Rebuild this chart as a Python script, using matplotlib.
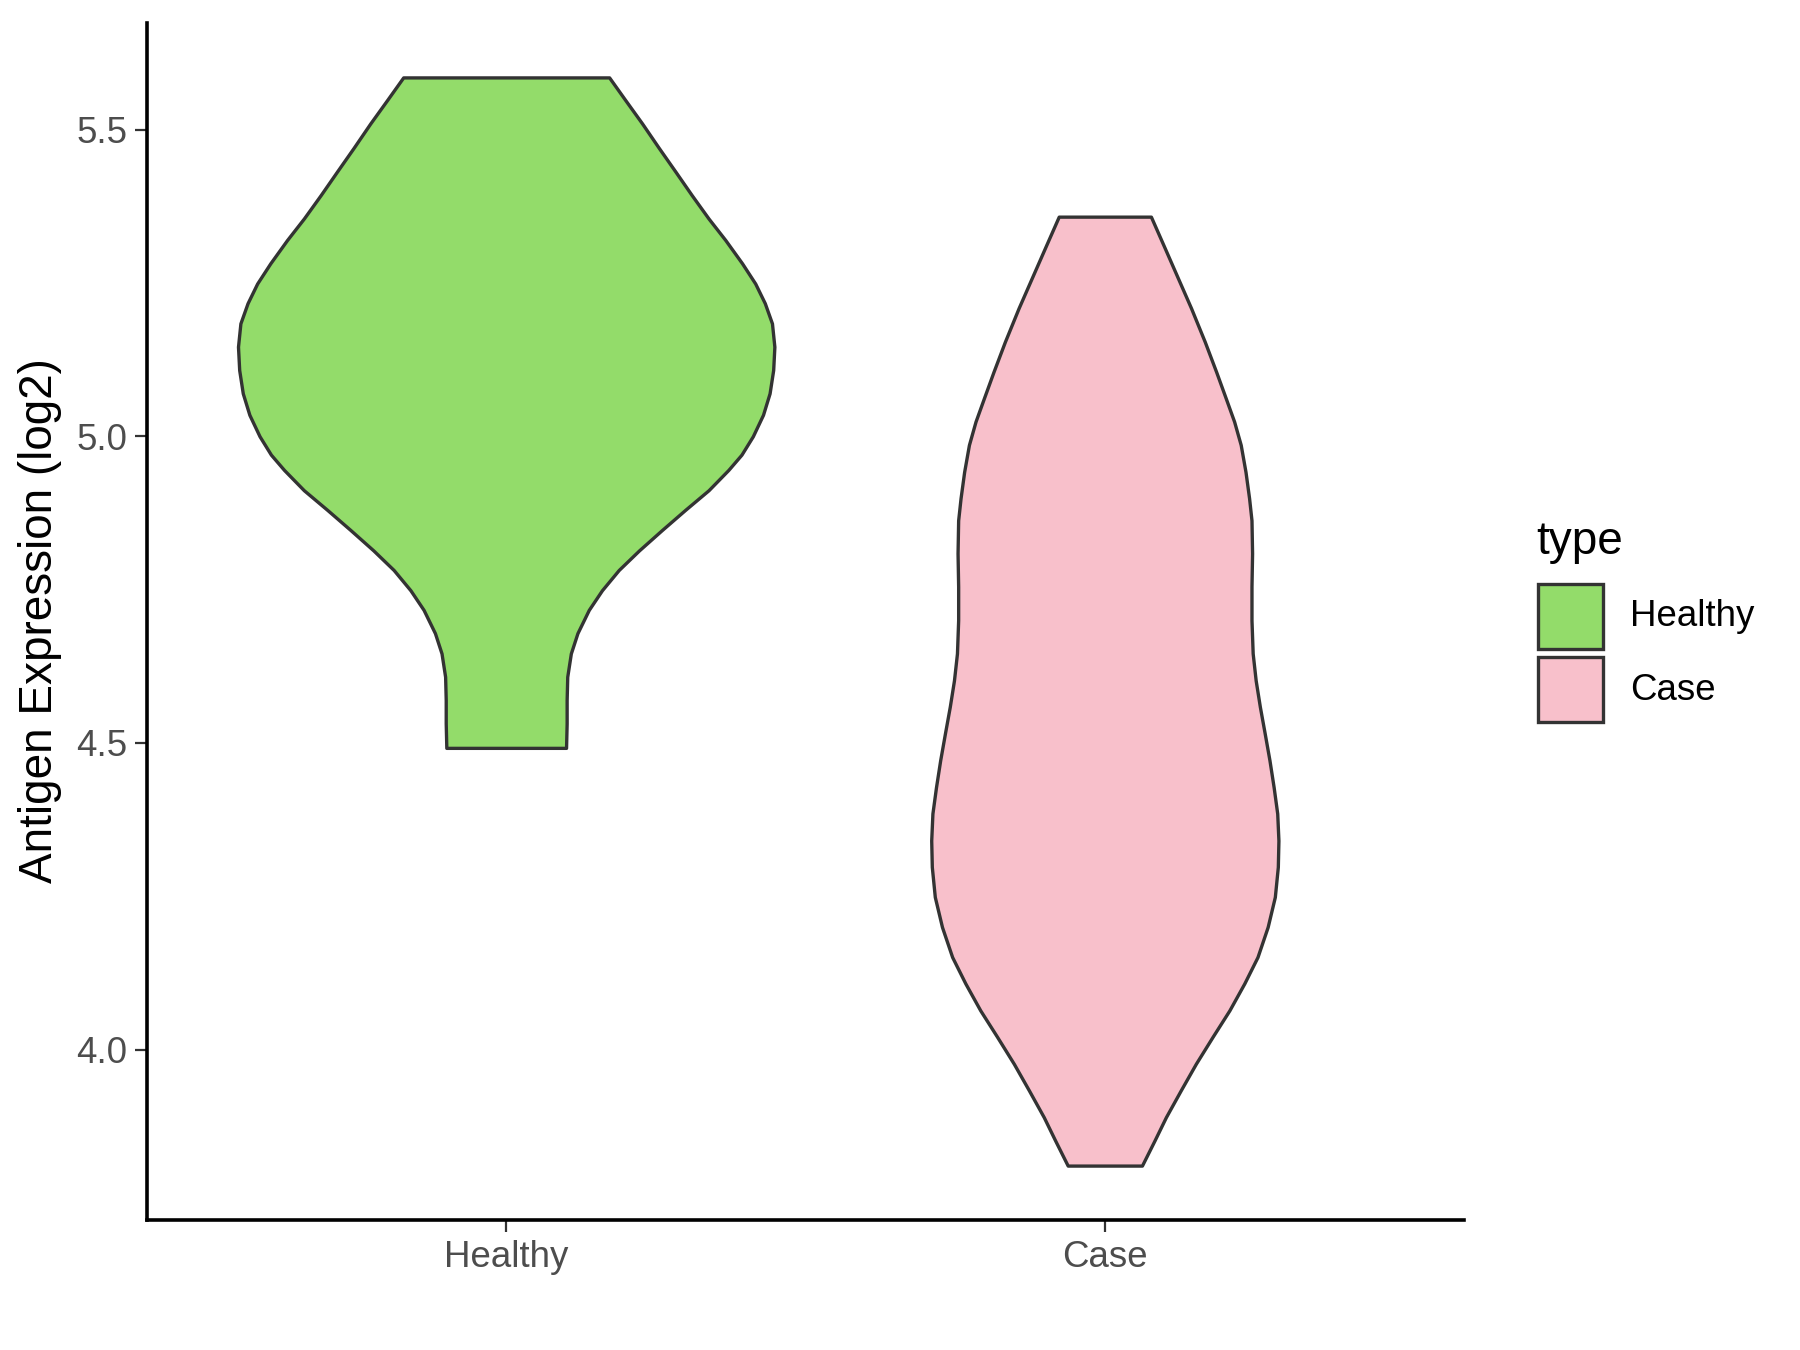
import numpy as np
import matplotlib.pyplot as plt
from matplotlib.patches import Rectangle

plt.rcParams['font.family'] = ['Liberation Sans', 'DejaVu Sans']

# violin outlines: expression level and half width (x units)
healthy_y = [5.585, 5.548, 5.510, 5.470, 5.431, 5.393, 5.355, 5.320, 5.282,
             5.249, 5.217, 5.184, 5.146, 5.108, 5.070, 5.035, 5.000, 4.970,
             4.945, 4.912, 4.880, 4.847, 4.814, 4.782, 4.749, 4.717, 4.679,
             4.646, 4.608, 4.570, 4.532, 4.492]
healthy_w = [0.172, 0.199, 0.227, 0.255, 0.283, 0.310, 0.338, 0.366, 0.394,
             0.416, 0.432, 0.444, 0.448, 0.446, 0.440, 0.429, 0.412, 0.393,
             0.371, 0.338, 0.299, 0.260, 0.222, 0.188, 0.160, 0.138, 0.119,
             0.108, 0.102, 0.101, 0.101, 0.100]

case_y = [5.358, 5.307, 5.258, 5.209, 5.154, 5.105, 5.062, 5.024, 4.986, 4.942,
          4.899, 4.863, 4.809, 4.755, 4.700, 4.646, 4.602, 4.559, 4.516, 4.472,
          4.428, 4.385, 4.341, 4.298, 4.249, 4.200, 4.151, 4.108, 4.064, 4.021,
          3.977, 3.934, 3.890, 3.852, 3.811]
case_w = [0.077, 0.100, 0.122, 0.144, 0.167, 0.186, 0.202, 0.216, 0.227, 0.235,
          0.241, 0.245, 0.246, 0.245, 0.245, 0.247, 0.252, 0.259, 0.267, 0.275,
          0.282, 0.288, 0.290, 0.289, 0.284, 0.272, 0.255, 0.233, 0.208, 0.180,
          0.152, 0.127, 0.102, 0.083, 0.062]

groups = ['Healthy', 'Case']
colors = ['#93DC6A', '#F8C0CB']
profiles = [(healthy_y, healthy_w), (case_y, case_w)]

fig = plt.figure(figsize=(18, 13.5), dpi=100)
ax = fig.add_axes([147/1800, 1-1220/1350, (1464-147)/1800, (1220-23)/1350])

for i, (yv, wv) in enumerate(profiles):
	yv = np.array(yv)
	wv = np.array(wv)
	ax.fill_betweenx(yv, i+1-wv, i+1+wv, facecolor=colors[i], edgecolor='#333333',
	                 linewidth=2.4, joinstyle='round', zorder=2)

lo = min(min(healthy_y), min(case_y))
hi = max(max(healthy_y), max(case_y))
pad = (hi-lo)*0.05
ax.set_ylim(lo-pad, hi+pad)
ax.set_xlim(0.4, 2.6)

ax.set_xticks([1, 2])
ax.set_xticklabels(groups)
ax.set_yticks([4.0, 4.5, 5.0, 5.5])
ax.set_yticklabels(['4.0', '4.5', '5.0', '5.5'])
ax.tick_params(axis='both', length=8.3, width=1.6, color='#333333',
               labelsize=26.4, labelcolor='#4D4D4D')
ax.tick_params(axis='x', pad=6)
ax.tick_params(axis='y', pad=6)

for s in ['top', 'right']:
	ax.spines[s].set_visible(False)
for s in ['left', 'bottom']:
	ax.spines[s].set_linewidth(2.6)
	ax.spines[s].set_color('black')

fig.text(40/1800, 1-621/1350, 'Antigen Expression (log2)', rotation=90,
         ha='center', va='center', fontsize=33, color='black')

# legend
fig.text(1536/1800, 1-542/1350, 'type', ha='left', va='center', fontsize=33)
for i, g in enumerate(groups):
	top = 584 + i*73
	fig.add_artist(Rectangle((1538/1800, 1-(top+65)/1350), 65/1800, 65/1350,
	                         transform=fig.transFigure, facecolor=colors[i],
	                         edgecolor='#333333', linewidth=2.4))
	fig.text(1630/1800, 1-(top+33)/1350, g, ha='left', va='center', fontsize=26.4)

plt.savefig('out.png', dpi=100)
